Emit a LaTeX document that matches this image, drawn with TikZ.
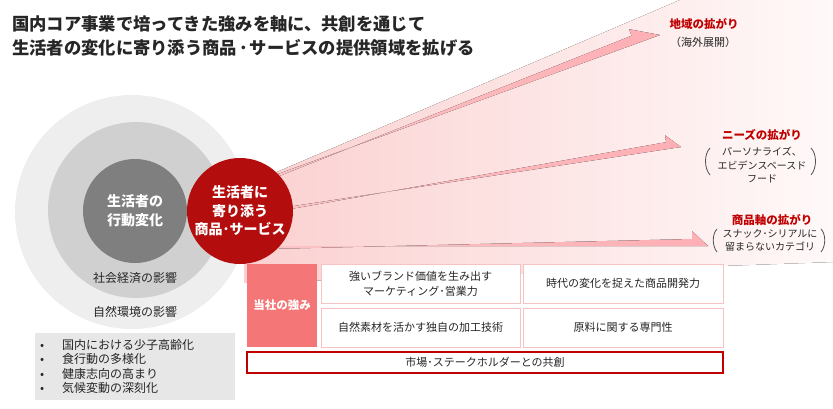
\documentclass[tikz,border=0pt]{standalone}
\usepackage{fontspec}
\setmainfont{Noto Sans CJK JP}
\usetikzlibrary{calc}
\definecolor{redc}{HTML}{B30D0D}
\definecolor{darkg}{HTML}{7F7F7F}
\definecolor{midg}{HTML}{D0D0D0}
\definecolor{lightg}{HTML}{EEEEEE}
\definecolor{salmon}{HTML}{F47676}
\definecolor{pinkb}{HTML}{F6C2C2}
\definecolor{arrowc}{HTML}{FDAFB4}
\definecolor{arrowl}{HTML}{FBC4C6}
\definecolor{labelred}{HTML}{C00000}
\definecolor{txt}{HTML}{262626}
\definecolor{bullbg}{HTML}{E7E7E7}
\definecolor{fanL}{HTML}{FBD0D0}
\definecolor{fanR}{HTML}{FFF9F9}
\newcommand\harp[6]{% tail, tip, L, w, h, tail width
  \coordinate (hb) at ($(#2)!#3!(#1)$);
  \coordinate (hs) at ($(hb)!#4!90:(#2)$);
  \coordinate (hh) at ($(hb)!#5!90:(#2)$);
  \coordinate (ht) at ($(#1)!#6!-90:(#2)$);
  \fill[left color=arrowl, right color=arrowc] (#1) -- (ht) -- (hs) -- (hh) -- (#2) -- cycle;
}
\begin{document}
\begin{tikzpicture}[x=1pt,y=-1pt,
  every node/.style={inner sep=0pt, align=center, text=txt},
  circ/.style={circle, minimum size=#1},
  cell/.style={draw=pinkb, line width=1pt, fill=white, minimum width=199pt, minimum height=39pt, font=\fontsize{11}{14.5}\selectfont},
  sub/.style={font=\fontsize{10}{13.2}\selectfont, text=txt},
  lab/.style={font=\fontsize{11.5}{14}\selectfont\bfseries, text=labelred},
  paren/.style={draw=txt!80, line width=0.8pt}]
\useasboundingbox (0,0) rectangle (833,408);
\fill[white] (0,0) rectangle (833,408);

% circles
\node[circ=234pt, fill=lightg] (outer) at (132,212) {};
\node[circ=176pt, fill=midg] (middle) at (136,210) {};
\node[circ=104pt, fill=darkg, text=white, font=\fontsize{14}{19}\selectfont\bfseries] (inner) at (135,211) {\textcolor{white}{生活者の}\\\textcolor{white}{行動変化}};

% fan
\fill[left color=fanL, right color=fanR] (244,186) -- (680,0) -- (833,0) -- (833,262) -- (244,283) -- cycle;

% arrows
\coordinate (t1) at (256,182); \coordinate (p1) at (660,35);
\coordinate (t2) at (268,210); \coordinate (p2) at (681,147);
\coordinate (t3) at (268,246); \coordinate (p3) at (708,246);
\harp{t1}{p1}{27pt}{9pt}{16pt}{3pt}
\harp{t2}{p2}{14pt}{7pt}{14pt}{3pt}
\harp{t3}{p3}{16pt}{7pt}{15pt}{3pt}

\node[circ=106pt, fill=redc, font=\fontsize{14}{18.5}\selectfont\bfseries] (red) at (240,211) {\textcolor{white}{生活者に}\\\textcolor{white}{寄り添う}\\\textcolor{white}{商品･サービス}};

\node[font=\fontsize{12}{14}\selectfont] (soc) at (135,278) {社会経済の影響};
\node[font=\fontsize{12}{14}\selectfont] (nat) at (135,312) {自然環境の影響};

% title
\node[anchor=west, align=left, font=\fontsize{17.3}{24}\selectfont\bfseries] (title) at (12,36) {国内コア事業で培ってきた強みを軸に、共創を通じて\\生活者の変化に寄り添う商品\kern2pt･\kern2pt サービスの提供領域を拡げる};

% bullets
\node[fill=bullbg, minimum width=200pt, minimum height=67pt] (bbox) at (135,366.5) {};
\node[anchor=west, align=left, font=\fontsize{12}{14.3}\selectfont] (blist) at (40,366.5) {%
\makebox[22pt][l]{•}国内における少子高齢化\\
\makebox[22pt][l]{•}食行動の多様化\\
\makebox[22pt][l]{•}健康志向の高まり\\
\makebox[22pt][l]{•}気候変動の深刻化};

% right labels
\node[lab] (l1) at (704,24) {地域の拡がり};
\node[font=\fontsize{11}{13}\selectfont] (l1s) at (703,42) {（海外展開）};
\node[lab] (l2) at (762,135) {ニーズの拡がり};
\node[sub] (l2s) at (762,165) {パーソナライズ、\\エビデンスベースド\\フード};
\node[lab] (l3) at (772,220) {商品軸の拡がり};
\node[sub] (l3s) at (770,240) {スナック･シリアルに\\留まらないカテゴリ};
\draw[paren] (710,148) .. controls (704,154) and (704,168) .. (710,175);
\draw[paren] (811,148) .. controls (817,154) and (817,168) .. (811,175);
\draw[paren] (717,229) .. controls (712,234) and (712,246) .. (717,252);
\draw[paren] (821,229) .. controls (826,234) and (826,246) .. (821,252);

% boxes
\node[fill=salmon, minimum width=70pt, minimum height=83pt, font=\fontsize{11.5}{14}\selectfont\bfseries] (str) at (282,305.5) {\textcolor{white}{当社の強み}};
\node[cell] (b1) at (420.5,283.5) {強いブランド価値を生み出す\\マーケティング･営業力};
\node[cell, minimum width=200pt] (b2) at (623,283.5) {時代の変化を捉えた商品開発力};
\node[cell] (b3) at (420.5,327.5) {自然素材を活かす独自の加工技術};
\node[cell, minimum width=200pt] (b4) at (623,327.5) {原料に関する専門性};
\node[draw=labelred, line width=1.4pt, fill=white, minimum width=476pt, minimum height=21pt, font=\fontsize{11}{14}\selectfont] (co) at (485,362.5) {市場･ステークホルダーとの共創};
\end{tikzpicture}
\end{document}
